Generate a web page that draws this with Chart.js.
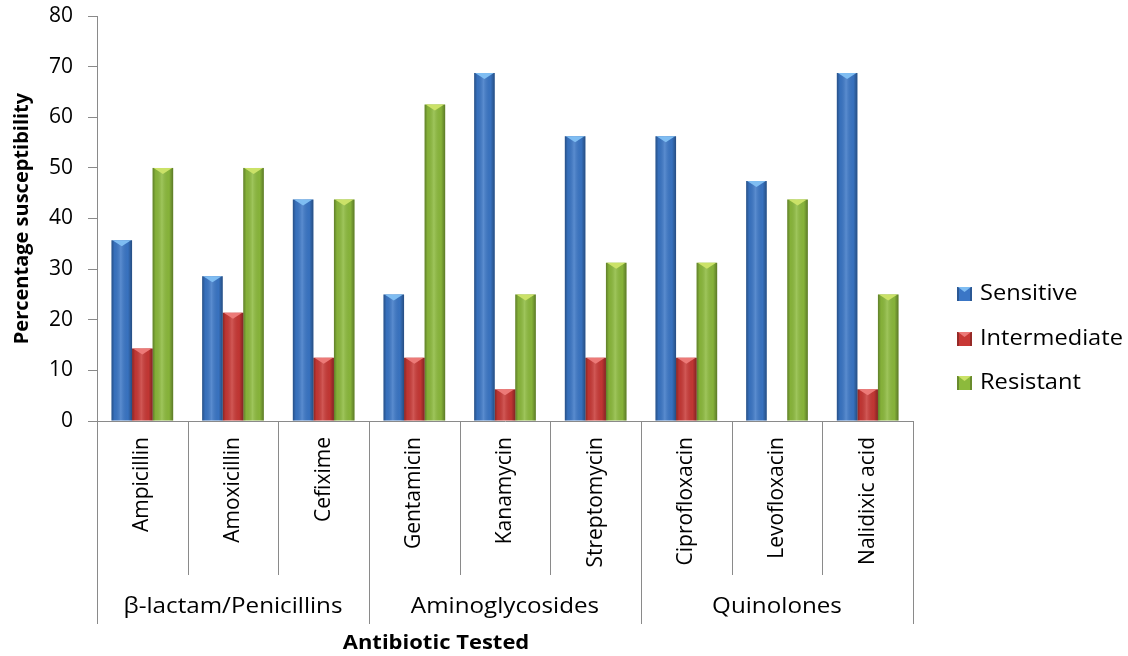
<!DOCTYPE html>
<html lang="en">
<head>
    <meta charset="utf-8" />
    <title>Antibiotic susceptibility</title>
    <script src="https://cdn.jsdelivr.net/npm/chart.js@4.4.0/dist/chart.umd.min.js"></script>
    <style>
        html, body {
            margin: 0;
            padding: 0;
            background: #fff;
        }
        #wrap {
            width: 1128px;
            height: 656px;
            position: relative;
        }
    </style>
</head>
<body>
    <div id="wrap"><canvas id="myChart"></canvas></div>

    <script>
        // data
        var antibiotics = ['Ampicillin', 'Amoxicillin', 'Cefixime', 'Gentamicin', 'Kanamycin',
                           'Streptomycin', 'Ciprofloxacin', 'Levofloxacin', 'Nalidixic acid'];
        var groupNames = ['β-lactam/Penicillins', 'Aminoglycosides', 'Quinolones'];
        var groupSizes = [3, 3, 3];

        var seriesNames = ['Sensitive', 'Intermediate', 'Resistant'];
        var sensitive = [35.7, 28.6, 43.75, 25, 68.75, 56.25, 56.25, 47.4, 68.75];
        var intermediate = [14.3, 21.4, 12.5, 12.5, 6.25, 12.5, 12.5, 0, 6.25];
        var resistant = [50, 50, 43.75, 62.5, 25, 31.25, 31.25, 43.75, 25];

        var yMin = 0, yMax = 80, yStep = 10;

        var barColors = ['#3a76c6', '#c83835', '#8cba3c'];
        var capColors = ['#7fbdf2', '#ec7a78', '#cbe268'];

        var axisColor = '#8a8a8a';
        var fontName = "'Open Sans', sans-serif";

        Chart.defaults.font.family = fontName;
        Chart.defaults.color = '#000';

        // the original text is slightly wide, so stretch it a little
        function wideText(ctx, text, x, y, align) {
            var sx = 1.1;
            ctx.save();
            ctx.scale(sx, 1);
            ctx.textAlign = align;
            ctx.fillText(text, x / sx, y);
            ctx.restore();
        }

        // shading, bevel caps, category brackets, legend
        var decorPlugin = {
            id: 'decor',
            afterDatasetsDraw: function (chart) {
                var ctx = chart.ctx;
                ctx.save();
                chart.data.datasets.forEach(function (ds, di) {
                    var meta = chart.getDatasetMeta(di);
                    meta.data.forEach(function (bar) {
                        var p = bar.getProps(['x', 'y', 'base', 'width'], true);
                        var h = p.base - p.y;
                        if (h < 1) return;
                        var left = p.x - p.width / 2;
                        var g = ctx.createLinearGradient(left, 0, left + p.width, 0);
                        g.addColorStop(0, 'rgba(0,0,0,0.32)');
                        g.addColorStop(0.15, 'rgba(0,0,0,0.05)');
                        g.addColorStop(0.45, 'rgba(255,255,255,0.16)');
                        g.addColorStop(0.8, 'rgba(0,0,0,0.04)');
                        g.addColorStop(1, 'rgba(0,0,0,0.35)');
                        ctx.fillStyle = g;
                        ctx.fillRect(left, p.y, p.width, h);

                        ctx.beginPath();
                        ctx.moveTo(left + 1, p.y);
                        ctx.lineTo(left + p.width - 1, p.y);
                        ctx.lineTo(p.x, p.y + Math.min(6, h));
                        ctx.closePath();
                        ctx.fillStyle = capColors[di];
                        ctx.fill();
                    });
                });
                ctx.restore();
            },
            afterDraw: function (chart) {
                var ctx = chart.ctx;
                var x = chart.scales.x;
                var area = chart.chartArea;
                var step = x.getPixelForValue(1) - x.getPixelForValue(0);
                ctx.save();

                // separators under the axis
                ctx.strokeStyle = axisColor;
                ctx.lineWidth = 1;
                var groupEdges = [0];
                var acc = 0;
                groupSizes.forEach(function (n) { acc += n; groupEdges.push(acc); });
                for (var i = 0; i <= antibiotics.length; i++) {
                    var px = Math.round(x.getPixelForValue(i) - step / 2) + 0.5;
                    var long = groupEdges.indexOf(i) >= 0;
                    ctx.beginPath();
                    ctx.moveTo(px, area.bottom);
                    ctx.lineTo(px, long ? 624 : 575);
                    ctx.stroke();
                }

                // group labels
                ctx.fillStyle = '#000';
                ctx.font = '22px ' + fontName;
                ctx.textBaseline = 'middle';
                for (var gi = 0; gi < groupNames.length; gi++) {
                    var a = x.getPixelForValue(groupEdges[gi]) - step / 2;
                    var b = x.getPixelForValue(groupEdges[gi + 1]) - step / 2;
                    wideText(ctx, groupNames[gi], (a + b) / 2, 607, 'center');
                }

                // x axis title
                ctx.font = 'bold 20px ' + fontName;
                wideText(ctx, 'Antibiotic Tested', 436, 643, 'center');

                // legend
                var rows = [294, 339, 383];
                ctx.font = '21.5px ' + fontName;
                seriesNames.forEach(function (name, si) {
                    var ry = rows[si];
                    var mx = 957, my = ry - 7;
                    ctx.fillStyle = barColors[si];
                    ctx.fillRect(mx, my, 15, 14);
                    ctx.fillStyle = 'rgba(0,0,0,0.25)';
                    ctx.fillRect(mx, my, 2, 14);
                    ctx.fillRect(mx + 13, my, 2, 14);
                    ctx.beginPath();
                    ctx.moveTo(mx + 1, my);
                    ctx.lineTo(mx + 14, my);
                    ctx.lineTo(mx + 7.5, my + 5);
                    ctx.closePath();
                    ctx.fillStyle = capColors[si];
                    ctx.fill();
                    ctx.fillStyle = '#000';
                    wideText(ctx, name, 980, ry, 'left');
                });

                ctx.restore();
            }
        };

        var ctx = document.getElementById('myChart');
        var myChart = new Chart(ctx, {
            type: 'bar',
            data: {
                labels: antibiotics,
                datasets: [
                    { label: seriesNames[0], data: sensitive, backgroundColor: barColors[0] },
                    { label: seriesNames[1], data: intermediate, backgroundColor: barColors[1] },
                    { label: seriesNames[2], data: resistant, backgroundColor: barColors[2] }
                ]
            },
            options: {
                responsive: true,
                maintainAspectRatio: false,
                animation: false,
                layout: {
                    padding: { top: 16, right: 215, bottom: 0, left: 0 }
                },
                datasets: {
                    bar: {
                        categoryPercentage: 0.68,
                        barPercentage: 1.0,
                        borderWidth: 0
                    }
                },
                plugins: {
                    legend: { display: false },
                    tooltip: { enabled: false }
                },
                scales: {
                    x: {
                        grid: { display: false, drawTicks: false },
                        border: { display: true, color: axisColor, width: 1 },
                        ticks: {
                            autoSkip: false,
                            minRotation: 90,
                            maxRotation: 90,
                            padding: 16,
                            font: { size: 21 },
                            color: '#000'
                        },
                        afterFit: function (scale) { scale.height = 235; }
                    },
                    y: {
                        min: yMin,
                        max: yMax,
                        grid: {
                            drawOnChartArea: false,
                            drawTicks: true,
                            tickLength: 9,
                            color: axisColor
                        },
                        border: { display: true, color: axisColor, width: 1 },
                        ticks: {
                            stepSize: yStep,
                            padding: 15,
                            font: { size: 21 },
                            color: '#000'
                        },
                        title: {
                            display: true,
                            text: 'Percentage susceptibility',
                            font: { size: 20, weight: 'bold' },
                            padding: { top: 10, bottom: 0 },
                            color: '#000'
                        },
                        afterFit: function (scale) {
                            scale.width = 97;
                            scale.paddingTop = 0;
                            scale.paddingBottom = 0;
                        }
                    }
                }
            },
            plugins: [decorPlugin]
        });
    </script>
</body>
</html>
